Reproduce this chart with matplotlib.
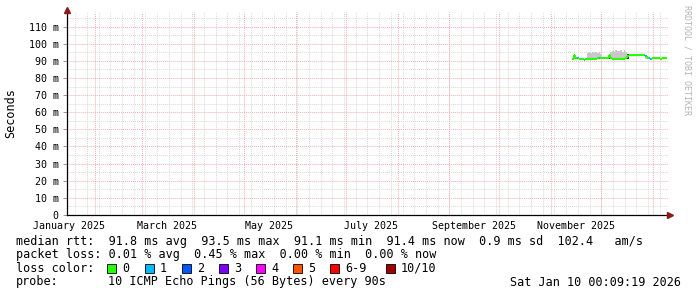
import matplotlib
matplotlib.use("Agg")
import matplotlib.pyplot as plt
import matplotlib.dates as mdates
from matplotlib.collections import LineCollection
from matplotlib.patches import Rectangle
import numpy as np
import pandas as pd

plt.rcParams['font.family'] = ['DejaVu Sans Mono']

# ---- data (one value per day from 2025-11-14) ----
first_day = "2025-11-14"
median = [91.2, 93.4, 91.9, 91.5, 91.2, 90.8, 90.8, 90.7, 90.8, 90.9,
          90.9, 90.8, 90.9, 91.0, 91.0, 91.4, 91.5, 91.5, 91.5, 91.5,
          91.5, 91.4, 93.4, 91.7, 91.3, 91.3, 91.2, 91.3, 91.3, 91.2,
          91.3, 91.3, 91.4, 93.0, 93.3, 93.3, 93.2, 93.3, 93.3, 93.3,
          93.2, 93.3, 93.3, 93.3, 93.1, 91.4, 91.4, 91.3, 91.4, 91.4,
          91.5, 91.4, 91.4, 91.3, 91.4, 91.4, 91.4]
smoke_max = [91.6, 93.8, 92.3, 91.9, 91.6, 91.2, 91.2, 91.1, 91.3, 94.5,
             95.2, 94.8, 95.3, 94.6, 95.0, 94.7, 95.1, 93.8, 92.0, 91.9,
             91.9, 91.8, 93.9, 95.0, 96.0, 95.2, 96.3, 95.5, 95.8, 96.1,
             95.4, 96.2, 95.0, 94.0, 93.7, 93.7, 93.6, 93.7, 93.7, 93.7,
             93.6, 93.7, 93.7, 93.7, 93.5, 91.8, 91.8, 91.7, 91.8, 91.8,
             91.9, 91.8, 91.8, 91.7, 91.8, 91.8, 91.8]
smoke_min = [90.9, 91.0, 91.6, 91.2, 90.9, 90.5, 90.5, 90.4, 90.5, 90.6,
             90.6, 90.5, 90.6, 90.7, 90.7, 91.1, 91.2, 91.2, 91.2, 91.2,
             91.2, 91.1, 91.2, 91.4, 91.0, 91.0, 90.9, 91.0, 91.0, 90.9,
             91.0, 91.0, 91.1, 91.2, 93.0, 93.0, 92.9, 93.0, 93.0, 93.0,
             92.9, 93.0, 93.0, 93.0, 91.2, 91.1, 91.1, 91.0, 91.1, 91.1,
             91.2, 91.1, 91.1, 91.0, 91.1, 91.1, 91.1]
loss = [0, 0, 0, 1, 0, 0, 0, 1, 0, 0,
        0, 0, 0, 0, 0, 0, 1, 0, 0, 0,
        0, 0, 0, 0, 0, 0, 0, 0, 0, 0,
        0, 0, 0, 0, 0, 0, 0, 0, 0, 0,
        0, 0, 0, 0, 1, 0, 1, 1, 0, 0,
        0, 0, 0, 0, 0, 0, 0]
spike_days = [1, 22, 33]

loss_labels = ["0", "1", "2", "3", "4", "5", "6-9", "10/10"]
loss_colors = ["#26ff00", "#00b8ff", "#0059ff", "#7e00ff",
               "#ff00ff", "#ff5500", "#ff0000", "#a00000"]

month_labels = ["January 2025", "March 2025", "May 2025",
                "July 2025", "September 2025", "November 2025"]
month_label_dates = ["2025-01-16", "2025-03-16", "2025-05-16",
                     "2025-07-16", "2025-09-16", "2025-11-16"]

stats_line = "median rtt:  91.8 ms avg  93.5 ms max  91.1 ms min  91.4 ms now  0.9 ms sd  102.4   am/s"
loss_line = "packet loss: 0.01 % avg  0.45 % max  0.00 % min  0.00 % now"
probe_text = "10 ICMP Echo Pings (56 Bytes) every 90s"
stamp = "Sat Jan 10 00:09:19 2026"

# ---- figure ----
W, H = 697, 297
fig = plt.figure(figsize=(W / 100, H / 100), dpi=100)
fig.patch.set_facecolor("white")
ax = fig.add_axes([67 / W, 1 - 215 / H, 601 / W, 203 / H])
ax.set_facecolor("white")

end = pd.Timestamp("2026-01-10 00:09:19")
start = end - pd.Timedelta(days=360)
x0, x1 = mdates.date2num(start.to_pydatetime()), mdates.date2num(end.to_pydatetime())
ax.set_xlim(x0, x1)
ax.set_ylim(0, 118.5)

minor_c = "#d2d2d2"
major_c = "#f0a4a4"
dots = (0, (1, 1.2))

# grid
for m in pd.date_range("2025-01-20", "2026-01-10", freq="W-MON"):
    ax.axvline(mdates.date2num(m.to_pydatetime()), color=minor_c, lw=0.65, ls=dots, zorder=0)
for y in np.arange(5, 118, 10):
    ax.axhline(y, color=minor_c, lw=0.65, ls=dots, zorder=0)
for m in pd.date_range("2025-02-01", "2026-01-01", freq="MS"):
    ax.axvline(mdates.date2num(m.to_pydatetime()), color=major_c, lw=0.65, ls=dots, zorder=0.5)
for y in np.arange(10, 118, 10):
    ax.axhline(y, color=major_c, lw=0.65, ls=dots, zorder=0.5)

# smoke
days = pd.date_range(first_day, periods=len(median), freq="D")
dn = mdates.date2num(days.to_pydatetime())
med = np.array(median)
lo = np.array(smoke_min)
hi = np.array(smoke_max)
bar_c = ["#3a3a3a" if i in spike_days else "#c8c8c8" for i in range(len(dn))]
ax.bar(dn, hi - lo, bottom=lo, width=1.0, color=bar_c, linewidth=0, zorder=2)

# median line coloured by loss
segs, cols = [], []
for i in range(len(dn)):
    segs.append([(dn[i] - 0.5, med[i]), (dn[i] + 0.5, med[i])])
    cols.append(loss_colors[loss[i]])
    if i + 1 < len(dn):
        segs.append([(dn[i] + 0.5, med[i]), (dn[i] + 0.5, med[i + 1])])
        cols.append(loss_colors[loss[i + 1]])
ax.add_collection(LineCollection(segs, colors=cols, linewidths=1.5, zorder=3))

# axes
for s in ["top", "right"]:
    ax.spines[s].set_visible(False)
for s in ["left", "bottom"]:
    ax.spines[s].set_color("black")
    ax.spines[s].set_linewidth(0.9)
ax.plot([0], [1.01], marker="^", ms=4, color="#8b1a1a", transform=ax.transAxes, clip_on=False, zorder=5)
ax.plot([1.003], [0], marker=">", ms=4, color="#8b1a1a", transform=ax.transAxes, clip_on=False, zorder=5)

yt = np.arange(0, 111, 10)
ax.set_yticks(yt)
ax.set_yticklabels(["0"] + [f"{v} m" for v in yt[1:]], fontsize=7.2)
ax.tick_params(axis="y", length=3, width=0.7, color="#999999", pad=3)
ax.set_xticks([mdates.date2num(pd.Timestamp(d).to_pydatetime()) for d in month_label_dates])
ax.set_xticklabels(month_labels, fontsize=7.2)
ax.tick_params(axis="x", length=0, pad=4.5)

# text
def fy(y):
    return 1 - y / H

fig.text(11 / W, fy(113), "Seconds", rotation=90, ha="center", va="center", fontsize=8.5)
fig.text(687 / W, fy(5), "RRDTOOL / TOBI OETIKER", rotation=270, ha="center", va="top",
         fontsize=6, color="#b4b4b4")

fig.text(16 / W, fy(241), stats_line, ha="left", va="center", fontsize=8.5)
fig.text(16 / W, fy(254.5), loss_line, ha="left", va="center", fontsize=8.5)
fig.text(16 / W, fy(268), "loss color:", ha="left", va="center", fontsize=8.5)
box_x = [107.3, 145, 182.3, 219, 256, 293.3, 330, 386]
for bx, lab, c in zip(box_x, loss_labels, loss_colors):
    fig.patches.append(Rectangle((bx / W, fy(273)), 8.5 / W, 9 / H, transform=fig.transFigure,
                                 facecolor=c, edgecolor="black", linewidth=0.6))
    fig.text((bx + 15) / W, fy(268), lab, ha="left", va="center", fontsize=8.5)
fig.text(16 / W, fy(282), "probe:", ha="left", va="center", fontsize=8.5)
fig.text(108 / W, fy(282), probe_text, ha="left", va="center", fontsize=8.5)
fig.text(681 / W, fy(282), stamp, ha="right", va="center", fontsize=8.5)

fig.savefig("out.png", dpi=100, facecolor="white")
